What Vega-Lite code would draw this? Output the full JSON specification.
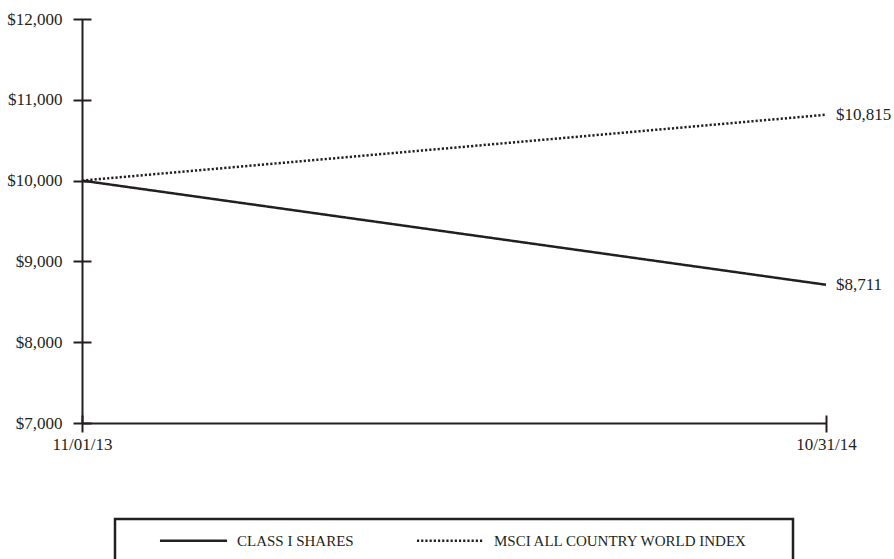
{
  "$schema": "https://vega.github.io/schema/vega-lite/v6.json",
  "width": 744,
  "height": 404,
  "autosize": {"type": "none"},
  "padding": {"left": 82, "top": 19, "right": 68, "bottom": 136},
  "background": "white",
  "config": {"view": {"stroke": null}, "font": "Liberation Serif"},
  "data": {
    "values": [
      {"series": "CLASS I SHARES", "date": "11/01/13", "value": 10000},
      {"series": "CLASS I SHARES", "date": "10/31/14", "value": 8711},
      {"series": "MSCI ALL COUNTRY WORLD INDEX", "date": "11/01/13", "value": 10000},
      {"series": "MSCI ALL COUNTRY WORLD INDEX", "date": "10/31/14", "value": 10815}
    ]
  },
  "resolve": {"axis": {"x": "independent", "y": "independent"}},
  "layer": [
    {
      "mark": {"type": "line", "color": "#231f20", "strokeWidth": 2.5},
      "encoding": {
        "x": {
          "field": "date", "type": "ordinal", "sort": ["11/01/13", "10/31/14"],
          "scale": {"type": "point", "padding": 0},
          "axis": {"orient": "bottom", "title": null, "domain": true, "domainColor": "#231f20", "domainWidth": 2,
                   "ticks": false, "grid": false, "labelAngle": 0, "labelFont": "Liberation Serif", "labelFontSize": 17,
                   "labelColor": "#231f20", "labelPadding": 13}
        },
        "y": {
          "field": "value", "type": "quantitative", "scale": {"domain": [7000, 12000], "nice": false, "zero": false},
          "axis": {"orient": "left", "title": null, "values": [7000, 8000, 9000, 10000, 11000, 12000], "format": "$,.0f",
                   "domain": true, "domainColor": "#231f20", "domainWidth": 2, "ticks": false, "grid": false,
                   "labelFont": "Liberation Serif", "labelFontSize": 17, "labelColor": "#231f20", "labelPadding": 20}
        },
        "detail": {"field": "series"},
        "strokeDash": {
          "field": "series", "type": "nominal",
          "scale": {"domain": ["CLASS I SHARES", "MSCI ALL COUNTRY WORLD INDEX"], "range": [[1, 0], [2.2, 2]]},
          "legend": {
            "orient": "none", "legendX": 33, "legendY": 500, "direction": "horizontal",
            "title": " ", "titleOrient": "left", "titlePadding": 29, "titleFontSize": 15,
            "padding": 14, "strokeColor": "#231f20",
            "symbolType": "M-6,0H6", "symbolSize": 125, "symbolOffset": 28, "symbolStrokeWidth": 2.5, "symbolStrokeColor": "#231f20",
            "labelFont": "Liberation Serif", "labelFontSize": 15, "labelColor": "#231f20", "labelOffset": 36,
            "columnPadding": 57, "labelLimit": 600,
            "labelExpr": "datum.label == 'MSCI ALL COUNTRY WORLD INDEX' ? datum.label + '\u00a0\u00a0\u00a0\u00a0\u00a0\u00a0\u00a0\u00a0\u200b' : datum.label",
            "encode": {"legend": {"update": {"strokeWidth": {"value": 2.5}}}}
          }
        }
      }
    },
    {
      "transform": [{"filter": "datum.date == '10/31/14'"}],
      "mark": {"type": "text", "align": "left", "baseline": "middle", "dx": 10, "fontSize": 17, "font": "Liberation Serif", "color": "#231f20"},
      "encoding": {
        "x": {
          "field": "date", "type": "ordinal", "sort": ["11/01/13", "10/31/14"],
          "scale": {"type": "point", "padding": 0},
          "axis": {"orient": "bottom", "title": null, "offset": -8, "domain": false, "labels": false, "grid": false,
                   "ticks": true, "tickSize": 17, "tickWidth": 2, "tickColor": "#231f20",
                   "values": ["11/01/13", "10/31/14"]}
        },
        "y": {
          "field": "value", "type": "quantitative", "scale": {"domain": [7000, 12000], "nice": false, "zero": false},
          "axis": {"orient": "left", "title": null, "offset": -9, "values": [7000, 8000, 9000, 10000, 11000, 12000],
                   "domain": false, "labels": false, "grid": false, "ticks": true, "tickSize": 18, "tickWidth": 2,
                   "tickColor": "#231f20"}
        },
        "text": {"field": "value", "type": "quantitative", "format": "$,.0f"}
      }
    }
  ]
}
